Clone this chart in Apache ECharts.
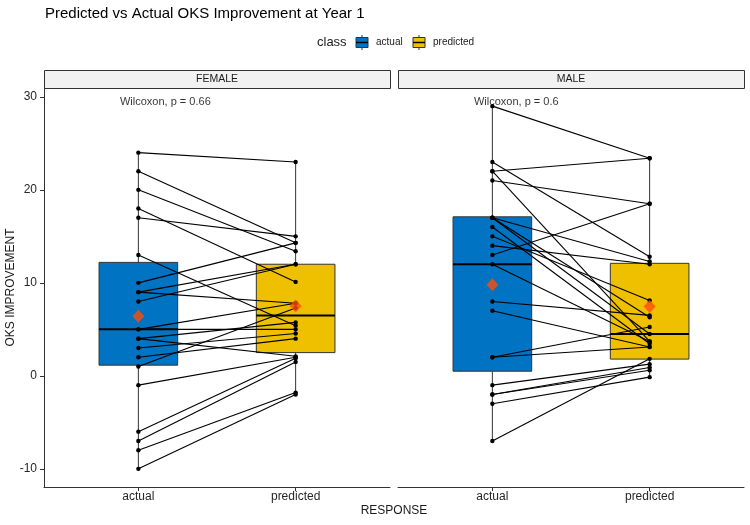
<!DOCTYPE html>
<html><head><meta charset="utf-8">
<script src="https://cdn.jsdelivr.net/npm/echarts@6/dist/echarts.min.js"></script>
<style>html,body{margin:0;padding:0;background:#fff}#c{width:750px;height:525px}</style>
</head><body><div id="c"></div>
<script>
// ---- data ----
const categories = ['actual', 'predicted'];
const panels = ['FEMALE', 'MALE'];
const yTicks = [-10, 0, 10, 20, 30];

// paired observations (actual -> predicted)
const femaleActual    = [24, 22, 20, 18, 17, 13, 10, 9, 9, 8, 5, 5, 4, 4, 3, 2, 1, -1, -6, -7, -8, -10];
const femalePredicted = [23, 14.3, 13.4, 10.1, 15, 5.4, 14.3, 12, 7.8, 12, 5, 7.8, 5.75, 2.1, 4.56, 4.0, 7.3, 2.0, 1.9, 1.5, -1.8, -2.0];
const maleActual      = [29, 23, 22, 22, 21, 17, 17, 17, 16, 15, 14, 13, 12, 8, 7, 2, 2, -1, -2, -2, -3, -7];
const malePredicted   = [23.4, 12.8, 23.4, 3.7, 18.5, 12.3, 6.3, 4.5, 3.45, 8.1, 12.0, 18.5, 3.7, 6.5, 3.1, 5.25, 3.1, 1.26, 0.9, 0.6, -0.14, 1.83];

// box statistics [min, Q1, median, Q3, max] for actual, predicted
const femaleBoxActual    = [-10, 1.15, 5, 12.2, 24];
const femaleBoxPredicted = [-2.0, 2.5, 6.5, 12.0, 23.0];
const maleBoxActual      = [-7, 0.5, 12, 17.1, 29];
const maleBoxPredicted   = [-0.14, 1.8, 4.5, 12.1, 23.4];

// means
const femaleMeans = [6.4, 7.5];
const maleMeans   = [9.8, 7.45];

const pLabels = ['Wilcoxon, p = 0.66', 'Wilcoxon, p = 0.6'];

// ---- chart ----
const FONT = '"Liberation Sans", Arial, Helvetica, sans-serif';
const BOX_COLORS = ['#0073C2', '#EFC000'];
const MEAN_COLOR = '#FC4E07';
const AXIS_COLOR = '#333333';

const panelData = [
  { actual: femaleActual, predicted: femalePredicted, boxes: [femaleBoxActual, femaleBoxPredicted], means: femaleMeans },
  { actual: maleActual, predicted: malePredicted, boxes: [maleBoxActual, maleBoxPredicted], means: maleMeans }
];

const gridDefs = [
  { left: 44, top: 88, width: 346, height: 399 },
  { left: 398, top: 88, width: 346, height: 399 }
];

function renderBox(params, api) {
  const x = api.value(0);
  const lo = api.coord([x, api.value(1)]);
  const q1 = api.coord([x, api.value(2)]);
  const md = api.coord([x, api.value(3)]);
  const q3 = api.coord([x, api.value(4)]);
  const hi = api.coord([x, api.value(5)]);
  const w = api.size([0.5, 0])[0];
  const col = BOX_COLORS[params.dataIndex];
  return {
    type: 'group',
    children: [
      { type: 'line', shape: { x1: hi[0], y1: hi[1], x2: q3[0], y2: q3[1] }, style: { stroke: AXIS_COLOR, lineWidth: 1 } },
      { type: 'line', shape: { x1: q1[0], y1: q1[1], x2: lo[0], y2: lo[1] }, style: { stroke: AXIS_COLOR, lineWidth: 1 } },
      { type: 'rect', shape: { x: q3[0] - w / 2, y: q3[1], width: w, height: q1[1] - q3[1] }, style: { fill: col, stroke: AXIS_COLOR, lineWidth: 1 } },
      { type: 'line', shape: { x1: md[0] - w / 2, y1: md[1], x2: md[0] + w / 2, y2: md[1] }, style: { stroke: '#000', lineWidth: 2 } }
    ]
  };
}

function renderPair(params, api) {
  const a = api.coord([1, api.value(0)]);
  const p = api.coord([2, api.value(1)]);
  return {
    type: 'group',
    children: [
      { type: 'line', shape: { x1: a[0], y1: a[1], x2: p[0], y2: p[1] }, style: { stroke: '#000', lineWidth: 1.1 } },
      { type: 'circle', shape: { cx: a[0], cy: a[1], r: 2.2 }, style: { fill: '#000' } },
      { type: 'circle', shape: { cx: p[0], cy: p[1], r: 2.2 }, style: { fill: '#000' } }
    ]
  };
}

const grid = gridDefs;
const xAxis = [], yAxis = [], series = [];
panelData.forEach((pd, i) => {
  xAxis.push({
    type: 'value', gridIndex: i, min: 0.4, max: 2.6,
    splitLine: { show: false },
    axisLine: { show: true, onZero: false, lineStyle: { color: AXIS_COLOR, width: 1 } },
    axisTick: { show: true, customValues: [1, 2], length: 4, lineStyle: { color: AXIS_COLOR } },
    axisLabel: { show: true, customValues: [1, 2], formatter: v => categories[Math.round(v) - 1], color: '#262626', fontSize: 12, fontFamily: FONT, margin: 4 }
  });
  yAxis.push({
    type: 'value', gridIndex: i, min: -11.95, max: 30.95,
    splitLine: { show: false },
    axisLine: { show: i === 0, onZero: false, lineStyle: { color: AXIS_COLOR, width: 1 } },
    axisTick: { show: i === 0, customValues: yTicks, length: 4, lineStyle: { color: AXIS_COLOR } },
    axisLabel: { show: i === 0, customValues: yTicks, color: '#262626', fontSize: 12, fontFamily: FONT, margin: 7 },
    name: i === 0 ? 'OKS IMPROVEMENT' : '',
    nameLocation: 'middle', nameGap: 27, nameMoveOverlap: false,
    nameTextStyle: { color: '#1a1a1a', fontSize: 12, fontFamily: FONT }
  });
  series.push({
    type: 'custom', xAxisIndex: i, yAxisIndex: i, z: 2, silent: true,
    data: pd.boxes.map((b, k) => [k + 1].concat(b)),
    encode: { x: 0, y: [1, 2, 3, 4, 5] },
    renderItem: renderBox
  });
  series.push({
    type: 'custom', xAxisIndex: i, yAxisIndex: i, z: 3, silent: true,
    data: pd.actual.map((a, k) => [a, pd.predicted[k]]),
    encode: { y: [0, 1] },
    renderItem: renderPair
  });
  series.push({
    type: 'scatter', xAxisIndex: i, yAxisIndex: i, z: 4, silent: true,
    symbol: 'diamond', symbolSize: [12, 13],
    itemStyle: { color: MEAN_COLOR },
    data: pd.means.map((m, k) => [k + 1, m])
  });
  series.push({
    type: 'scatter', xAxisIndex: i, yAxisIndex: i, z: 5, silent: true,
    symbolSize: 0,
    data: [[0.883, 29.45]],
    label: { show: true, position: 'right', distance: 0, formatter: pLabels[i], color: '#000', fontSize: 11, fontFamily: FONT }
  });
});

const graphic = [];
gridDefs.forEach((g, i) => {
  graphic.push({ type: 'rect', left: g.left, top: 70, shape: { width: g.width, height: 18 }, style: { fill: '#F2F2F2', stroke: '#333', lineWidth: 1 } });
  graphic.push({ type: 'text', x: g.left + g.width / 2, y: 79.5, style: { text: panels[i], fill: '#1a1a1a', fontSize: 10.5, fontFamily: FONT, align: 'center', verticalAlign: 'middle' } });
});
// legend
graphic.push({ type: 'text', x: 317, y: 42.5, style: { text: 'class', fill: '#1a1a1a', fontSize: 13, fontFamily: FONT, verticalAlign: 'middle' } });
[[362, categories[0]], [419, categories[1]]].forEach(([cx, label], k) => {
  graphic.push({ type: 'line', shape: { x1: cx, y1: 35, x2: cx, y2: 50 }, style: { stroke: '#333', lineWidth: 1 } });
  graphic.push({ type: 'rect', shape: { x: cx - 6, y: 37.5, width: 12, height: 10 }, style: { fill: BOX_COLORS[k], stroke: '#333', lineWidth: 1 } });
  graphic.push({ type: 'line', shape: { x1: cx - 6, y1: 42.5, x2: cx + 6, y2: 42.5 }, style: { stroke: '#000', lineWidth: 1.5 } });
  graphic.push({ type: 'text', x: cx + 14, y: 42.5, style: { text: label, fill: '#1a1a1a', fontSize: 10, fontFamily: FONT, verticalAlign: 'middle' } });
});
graphic.push({ type: 'text', x: 394, y: 511, style: { text: 'RESPONSE', fill: '#1a1a1a', fontSize: 12, fontFamily: FONT, align: 'center', verticalAlign: 'middle' } });

const option = {
  backgroundColor: '#fff',
  animation: false,
  title: { text: 'Predicted vs Actual OKS Improvement at Year 1', left: 45, top: 6, padding: 0,
    textStyle: { fontSize: 15, fontWeight: 'normal', color: '#000', fontFamily: FONT } },
  grid, xAxis, yAxis, series, graphic
};
const chart = echarts.init(document.getElementById('c'));
chart.setOption(option);
</script>
</body></html>
